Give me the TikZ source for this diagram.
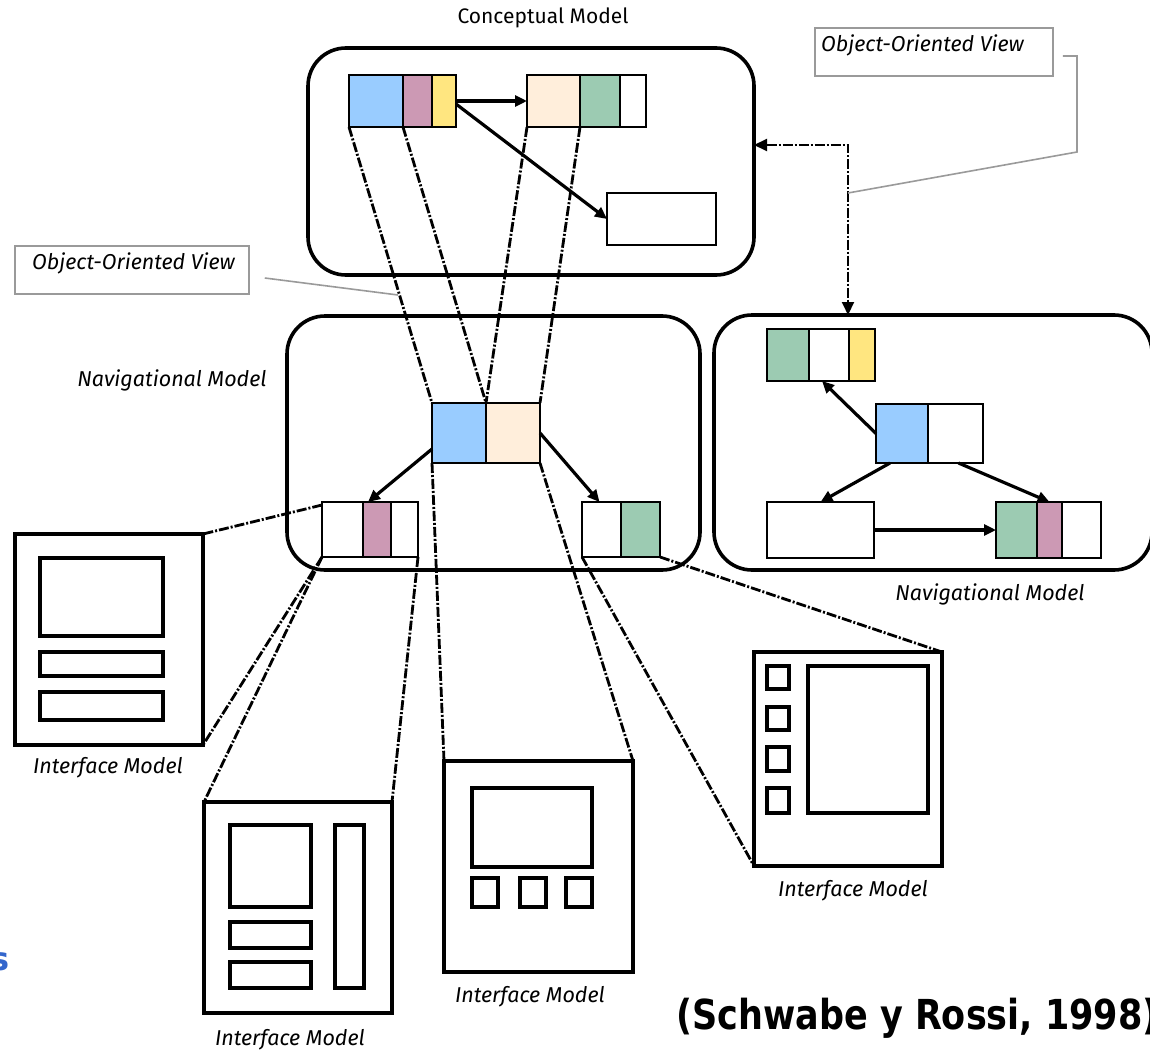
\documentclass[tikz,border=0pt]{standalone}
\usepackage{fontspec}
\setmainfont{Fira Sans}
\newfontfamily\citefont{DejaVu Sans}
\usetikzlibrary{arrows.meta,calc}
\definecolor{cblue}{HTML}{99CCFF}
\definecolor{cmauve}{HTML}{CC99B4}
\definecolor{cyellow}{HTML}{FFE680}
\definecolor{cpeach}{HTML}{FFEEDB}
\definecolor{cgreen}{HTML}{9CCBB2}
\definecolor{cgray}{HTML}{9A9A9A}
\definecolor{ctxtblue}{HTML}{3366CC}
\newcommand\mkbox[6][]{\node[#1, minimum width={#5-#3}, minimum height={#6-#4}] (#2) at ({(#3+#5)/2},{(#4+#6)/2}) {};}
\begin{document}
\begin{tikzpicture}[x=1pt,y=-1pt,
  cell/.style={draw, line width=2.8pt, inner sep=0pt, outer sep=0pt},
  model/.style={draw, line width=3.6pt, rounded corners=38pt, inner sep=0pt, outer sep=0pt},
  ui/.style={draw, line width=3.6pt, inner sep=0pt, outer sep=0pt},
  proj/.style={line width=2.8pt, dash pattern=on 10pt off 2pt on 2pt off 2pt},
  arr/.style={line width=3.2pt, -{Triangle[length=12pt,width=11pt]}},
  darr/.style={line width=2pt, dash pattern=on 10pt off 2pt on 2pt off 2pt, {Triangle[length=13pt,width=12pt]}-{Triangle[length=13pt,width=12pt]}},
  lbl/.style={font=\itshape\fontsize{21.5}{24}\selectfont, inner sep=0pt},
  callout/.style={draw=cgray, line width=1.6pt},
  calline/.style={draw=cgray, line width=1.6pt}]
\useasboundingbox (0,0) rectangle (1150,1051);
\fill[white] (0,0) rectangle (1150,1051);
% ---------- Conceptual model ----------
\mkbox[model]{cm}{308}{48}{754}{275}
\node[font=\fontsize{21}{24}\selectfont, inner sep=0pt] (cmlbl) at (543,18) {Conceptual Model};
\mkbox[cell, fill=cblue]{c1b}{349}{75}{403}{127}
\mkbox[cell, fill=cmauve]{c1m}{403}{75}{432}{127}
\mkbox[cell, fill=cyellow]{c1y}{432}{75}{456}{127}
\mkbox[cell, fill=cpeach]{c2p}{527}{75}{580}{127}
\mkbox[cell, fill=cgreen]{c2g}{580}{75}{620}{127}
\mkbox[cell, fill=white]{c2w}{620}{75}{646}{127}
\mkbox[cell]{c3}{607}{193}{716}{245}
% ---------- Navigational model (left) ----------
\mkbox[model]{nvl}{287}{316}{700}{570}
\node[lbl] (nvllbl) at (172,380) {Navigational Model};
\mkbox[cell, fill=cblue]{nmb}{432}{403}{486}{463}
\mkbox[cell, fill=cpeach]{nmp}{486}{403}{540}{463}
\mkbox[cell, fill=white]{nl1}{322}{502}{363}{557}
\mkbox[cell, fill=cmauve]{nl2}{363}{502}{391}{557}
\mkbox[cell, fill=white]{nl3}{391}{502}{418}{557}
\mkbox[cell, fill=white]{nr1}{582}{502}{621}{557}
\mkbox[cell, fill=cgreen]{nr2}{621}{502}{660}{557}
% ---------- Navigational model (right) ----------
\mkbox[model]{nvr}{714}{315}{1152}{570}
\node[lbl] (nvrlbl) at (990,594) {Navigational Model};
\mkbox[cell, fill=cgreen]{rt1}{767}{329}{809}{381}
\mkbox[cell, fill=white]{rt2}{809}{329}{849}{381}
\mkbox[cell, fill=cyellow]{rt3}{849}{329}{875}{381}
\mkbox[cell, fill=cblue]{rmb}{876}{404}{928}{463}
\mkbox[cell, fill=white]{rmw}{928}{404}{983}{463}
\mkbox[cell, fill=white]{rbl}{767}{502}{874}{558}
\mkbox[cell, fill=cgreen]{rbr1}{996}{502}{1037}{558}
\mkbox[cell, fill=cmauve]{rbr2}{1037}{502}{1062}{558}
\mkbox[cell, fill=white]{rbr3}{1062}{502}{1101}{558}
% ---------- Interface models ----------
\mkbox[ui]{im1}{15}{534}{203}{745}
\mkbox[ui]{im1a}{40}{558}{163}{636}
\mkbox[ui]{im1b}{40}{652}{163}{676}
\mkbox[ui]{im1c}{40}{692}{163}{720}
\node[lbl] (im1lbl) at (108,768) {Interface Model};
\mkbox[ui]{im2}{204}{802}{392}{1013}
\mkbox[ui]{im2a}{230}{825}{311}{907}
\mkbox[ui]{im2b}{230}{922}{311}{948}
\mkbox[ui]{im2c}{230}{962}{311}{988}
\mkbox[ui]{im2d}{335}{825}{364}{988}
\node[lbl] (im2lbl) at (290,1040) {Interface Model};
\mkbox[ui]{im3}{444}{761}{633}{972}
\mkbox[ui]{im3a}{472}{788}{592}{867}
\mkbox[ui]{im3b}{472}{878}{498}{907}
\mkbox[ui]{im3c}{520}{878}{546}{907}
\mkbox[ui]{im3d}{566}{878}{592}{907}
\node[lbl] (im3lbl) at (530,997) {Interface Model};
\mkbox[ui]{im4}{754}{652}{942}{866}
\mkbox[ui]{im4a}{767}{666}{789}{689}
\mkbox[ui]{im4b}{767}{707}{789}{730}
\mkbox[ui]{im4c}{767}{747}{789}{771}
\mkbox[ui]{im4d}{767}{788}{789}{813}
\mkbox[ui]{im4e}{808}{666}{928}{813}
\node[lbl] (im4lbl) at (853,891) {Interface Model};
% ---------- Callouts ----------
\mkbox[callout]{oov1}{815}{28}{1053}{76}
\node[lbl, anchor=west] (oov1t) at (821,45) {Object-Oriented View};
\mkbox[callout]{oov2}{15}{246}{249}{294}
\node[lbl, anchor=west] (oov2t) at (32,263) {Object-Oriented View};
% ---------- Solid arrows ----------
\draw[arr] (c1y.east) -- (c2p.west);
\draw[arr] ([yshift=-3pt]c1y.east) -- (c3.west);
\draw[arr] ([yshift=-16pt]nmb.west) -- ([xshift=5pt]nl2.north west);
\draw[arr] (nmp.east) -- ([xshift=-2pt]nr1.north);
\draw[arr] (rmb.west) -- ([xshift=13pt]rt2.south west);
\draw[arr] ([xshift=-12pt]rmb.south) -- (rbl.north);
\draw[arr] ([xshift=3pt]rmw.south) -- (rbr2.north);
\draw[arr] (rbl.east) -- (rbr1.west);
% ---------- Projection lines ----------
\draw[proj] (c1b.south west) -- (nmb.north west);
\draw[proj] (c1b.south east) -- (nmb.north east);
\draw[proj] (c2p.south west) -- (nmb.north east);
\draw[proj] (c2p.south east) -- (nmp.north east);
\draw[proj] ([yshift=-3pt]nl1.north west) -- (im1.north east);
\draw[proj] (nl1.south west) -- (im1.south east);
\draw[proj] (nl1.south west) -- (im2.north west);
\draw[proj] (nl3.south east) -- (im2.north east);
\draw[proj] (nmb.south west) -- (im3.north west);
\draw[proj] (nmp.south east) -- (im3.north east);
\draw[proj] (nr1.south west) -- (im4.south west);
\draw[proj] (nr2.south east) -- (im4.north east);
% ---------- Conceptual <-> Navigational (right) ----------
\coordinate (bend) at (848,145);
\draw[darr] (bend -| cm.east) -- (bend) -- (bend |- nvr.north);
% ---------- Callout leaders ----------
\coordinate (lead1) at (848,193);
\draw[calline] ([xshift=9pt,yshift=-4pt]oov1.east) -- (1077,56) -- (1077,152) -- (lead1);
\coordinate (lead2) at (398,295);
\draw[calline] ([xshift=15pt,yshift=-8pt]oov2.east) -- (lead2);
% ---------- Other texts ----------
\node[font=\citefont\bfseries\fontsize{35}{40}\selectfont, inner sep=0pt, anchor=west] (cite) at (676,1018) {\scalebox{1}[1.18]{(Schwabe y Rossi, 1998)}};
\node[font=\citefont\bfseries\fontsize{32}{36}\selectfont, text=ctxtblue, inner sep=0pt, anchor=east] (blues) at (10,962) {s};
\end{tikzpicture}
\end{document}
